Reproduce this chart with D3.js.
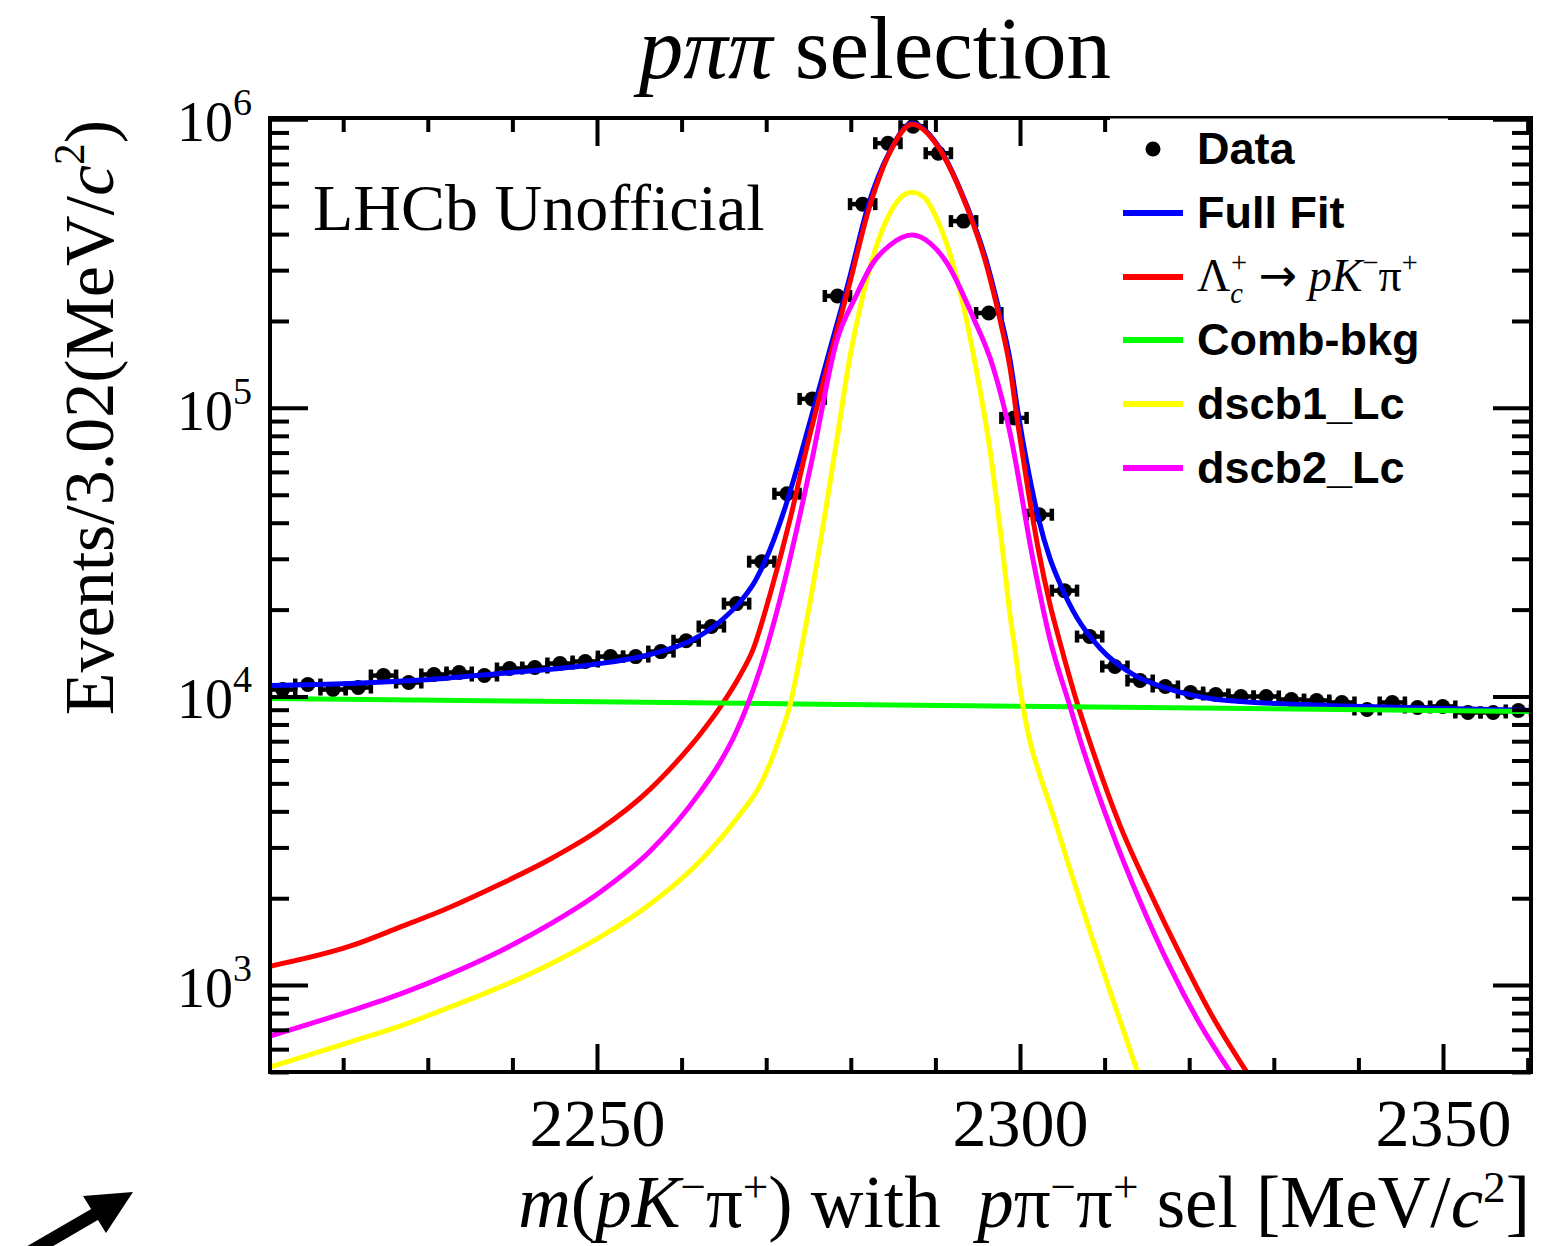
<!DOCTYPE html>
<html><head><meta charset="utf-8">
<script src="https://cdn.jsdelivr.net/npm/d3@7"></script>
<style>body{margin:0;background:#fff} svg{display:block}</style>
</head><body>
<svg id="c" width="1553" height="1246"></svg>
<script>
// ---------------- data ----------------
const binRange = [2211.35, 2360.4];           // MeV/c^2, 50 bins
const counts = [10570, 11000, 10570, 10740, 11820, 11180, 11920, 12110, 11820, 12500,
  12600, 13010, 13220, 13750, 13750, 14310, 15600, 17470, 20980, 29320,
  50410, 107400, 244100, 508000, 826000, 946000, 762700, 443700, 213200, 92300,
  42640, 23270, 16130, 12700, 11360, 10830, 10320, 10160, 10000, 10000,
  9763, 9687, 9533, 9016, 9533, 9162, 9236, 8803, 8803, 8946];

const fullFit = [[2211.35,10920],[2220.80,11090],[2230.26,11450],[2238.53,12010],[2249.53,12900],[2256.26,13980],[2261.35,15750],[2264.54,18180],[2266.90,21250],[2268.68,25100],[2270.45,32300],[2272.22,45000],[2274.59,77520],[2277.19,146600],[2279.91,286200],[2282.03,500000],[2284.63,775100],[2287.23,968700],[2290.19,819300],[2292.91,572500],[2296.10,316800],[2297.64,210900],[2298.82,146900],[2299.76,96600],[2300.95,61280],[2302.13,42020],[2303.55,30040],[2304.73,24600],[2306.74,18730],[2309.46,14700],[2313.36,11920],[2317.38,10660],[2323.29,9763],[2333.10,9382],[2344.92,9161],[2360.40,8946]];

const signalLc = [[2211.35,1163],[2220.80,1364],[2226.71,1588],[2232.62,1862],[2238.53,2236],[2244.44,2729],[2250.35,3466],[2256.26,4766],[2259.46,5960],[2262.17,7386],[2264.54,9162],[2266.90,11820],[2268.44,14540],[2270.45,22540],[2272.81,40980],[2274.59,68780],[2277.19,137600],[2279.91,272900],[2282.03,476600],[2284.63,768800],[2287.23,961000],[2290.19,812800],[2292.91,567900],[2296.10,307500],[2297.64,201600],[2298.82,137600],[2299.76,87350],[2300.95,52030],[2302.13,32780],[2303.55,20810],[2304.73,15380],[2306.74,9533],[2308.04,7270],[2311.82,3578],[2315.37,2098],[2318.91,1280],[2322.46,806],[2327.19,480]];

const combBkg = [[2211.35,9840],[2250,9580],[2300,9250],[2360.4,8870]];

const dscb1 = [[2211.35,520],[2220.80,635],[2226.71,721],[2232.62,839],[2238.53,984],[2244.44,1182],[2250.35,1466],[2256.26,1907],[2262.17,2687],[2266.90,3905],[2269.27,4920],[2270.45,5864],[2271.63,7270],[2272.81,9308],[2274.00,13750],[2275.18,21150],[2276.36,33570],[2277.54,55020],[2278.72,90890],[2279.67,137500],[2281.09,221800],[2282.62,333000],[2284.28,450800],[2285.82,532900],[2287.23,559000],[2288.77,532900],[2290.19,450800],[2291.73,341100],[2293.26,229000],[2294.68,143100],[2296.45,71560],[2297.87,33570],[2298.82,19220],[2299.41,14540],[2300.00,10742],[2300.59,8460],[2301.18,6987],[2302.36,5328],[2303.55,4196],[2305.91,2520],[2308.27,1538],[2310.64,953],[2314.18,473]];

const dscb2 = [[2211.35,666],[2220.80,813],[2226.71,931],[2232.62,1092],[2238.53,1311],[2244.44,1626],[2250.35,2098],[2256.26,2909],[2262.17,4653],[2264.54,5910],[2266.31,7386],[2267.73,9235],[2269.27,12400],[2271.63,21650],[2274.00,42640],[2275.41,66070],[2278.37,171900],[2280.50,240200],[2282.62,317600],[2284.63,366400],[2287.23,396800],[2289.36,372300],[2291.37,317600],[2294.44,206500],[2296.81,138700],[2298.82,81930],[2301.54,29790],[2303.55,15750],[2305.91,9235],[2307.09,7098],[2310.64,3550],[2314.18,1953],[2317.73,1154],[2321.28,733],[2325.41,473]];

const xTickValues = [2250, 2300, 2350];
const xTickLabels = ["2250", "2300", "2350"];
const yTickValues = [1e3, 1e4, 1e5, 1e6];
const yTickExponents = ["3", "4", "5", "6"];
const legendLabels = ["Data", "Full Fit", "LAMBDA", "Comb-bkg", "dscb1_Lc", "dscb2_Lc"];
const curveColors = {full:"#0000ff", sig:"#ff0000", bkg:"#00ff00", d1:"#ffff00", d2:"#ff00ff"};

// ---------------- layout ----------------
const L = 270, R = 1531, T = 118, B = 1072;
const serif = "'Liberation Serif','Times New Roman',Times,serif";
const sans = "'Liberation Sans',Arial,Helvetica,sans-serif";
const svg = d3.select("#c");

const x = d3.scaleLinear().domain(binRange).range([L, R]);
const y = d3.scaleLog().domain([500, 1.01e6]).range([B, T]);

svg.append("defs").append("clipPath").attr("id", "clip")
  .append("rect").attr("x", L).attr("y", T).attr("width", R - L).attr("height", B - T);

// ---------------- data points ----------------
const nB = counts.length, bw = (binRange[1] - binRange[0]) / nB;
const pts = counts.map((c, i) => ({m: binRange[0] + (i + 0.5) * bw, v: c}));
const gD = svg.append("g").attr("clip-path", "url(#clip)");
const pg = gD.selectAll("g.pt").data(pts).join("g").attr("class", "pt");
pg.append("line").attr("x1", d => x(d.m - bw / 2)).attr("x2", d => x(d.m + bw / 2))
  .attr("y1", d => y(d.v)).attr("y2", d => y(d.v)).attr("stroke", "#000").attr("stroke-width", 4.5);
[-1, 1].forEach(s => {
  pg.append("line").attr("x1", d => x(d.m + s * bw / 2)).attr("x2", d => x(d.m + s * bw / 2))
    .attr("y1", d => y(d.v) - 6).attr("y2", d => y(d.v) + 6).attr("stroke", "#000").attr("stroke-width", 4.5);
});
pg.append("circle").attr("cx", d => x(d.m)).attr("cy", d => y(d.v)).attr("r", 7.5).attr("fill", "#000");

// ---------------- curves ----------------
const line = d3.line().x(d => x(d[0])).y(d => y(d[1])).curve(d3.curveMonotoneX);
const gC = svg.append("g").attr("clip-path", "url(#clip)");
[[fullFit, curveColors.full], [signalLc, curveColors.sig], [combBkg, curveColors.bkg],
 [dscb1, curveColors.d1], [dscb2, curveColors.d2]].forEach(([d, c]) => {
  gC.append("path").datum(d).attr("d", line).attr("fill", "none").attr("stroke", c)
    .attr("stroke-width", 5).attr("stroke-linejoin", "round");
});

// ---------------- axes ----------------
const xMinor = d3.range(2220, 2361, 10).filter(v => v % 50 !== 0);
const yMinor = [];
[2, 3, 4, 5].forEach(e => d3.range(2, 10).forEach(k => { const v = k * Math.pow(10, e); if (v >= 500 && v <= 1.01e6) yMinor.push(v); }));
function st(g) { g.select(".domain").remove(); g.selectAll(".tick line").attr("stroke", "#000").attr("stroke-width", 4); }

svg.append("g").attr("transform", `translate(0,${B})`).call(d3.axisBottom(x).tickValues(xMinor).tickSize(-14).tickFormat("")).call(st);
svg.append("g").attr("transform", `translate(0,${B})`)
  .call(d3.axisBottom(x).tickValues(xTickValues).tickSize(-28).tickPadding(26).tickFormat((d, i) => xTickLabels[i]))
  .call(st).call(g => g.selectAll("text").attr("font-family", serif).attr("font-size", 68).attr("fill", "#000"));
svg.append("g").attr("transform", `translate(0,${T})`).call(d3.axisTop(x).tickValues(xMinor).tickSize(-14).tickFormat("")).call(st);
svg.append("g").attr("transform", `translate(0,${T})`).call(d3.axisTop(x).tickValues(xTickValues).tickSize(-28).tickFormat("")).call(st);

svg.append("g").attr("transform", `translate(${L},0)`).call(d3.axisLeft(y).tickValues(yMinor).tickSize(-19).tickFormat("")).call(st);
svg.append("g").attr("transform", `translate(${L},0)`).call(d3.axisLeft(y).tickValues(yTickValues).tickSize(-38).tickFormat("")).call(st);
svg.append("g").attr("transform", `translate(${R},0)`).call(d3.axisRight(y).tickValues(yMinor).tickSize(-19).tickFormat("")).call(st);
svg.append("g").attr("transform", `translate(${R},0)`).call(d3.axisRight(y).tickValues(yTickValues).tickSize(-38).tickFormat("")).call(st);

// y tick labels 10^n
yTickValues.forEach((v, i) => {
  const t = svg.append("text").attr("x", 252).attr("y", y(v) + 22).attr("text-anchor", "end")
    .attr("font-family", serif).attr("font-size", 56).attr("fill", "#000");
  t.append("tspan").text("10");
  t.append("tspan").attr("dy", -26).attr("font-size", 38).text(yTickExponents[i]);
});

// frame
svg.append("rect").attr("x", L).attr("y", T).attr("width", R - L).attr("height", B - T)
  .attr("fill", "none").attr("stroke", "#000").attr("stroke-width", 4);

// ---------------- rich text helper ----------------
function rich(sel, parts, fs, supRaise = 0.42) {
  let cur = 0;
  parts.forEach(p => {
    const [t, s, dx, fam] = p;
    let off = 0, size = fs;
    if (s.includes("sup")) { off = -supRaise * fs; size = 0.62 * fs; }
    if (s.includes("sub")) { off = 0.25 * fs; size = 0.62 * fs; }
    const ts = sel.append("tspan").attr("dy", off - cur).attr("font-size", size)
      .attr("font-style", s.startsWith("i") ? "italic" : "normal").text(t);
    if (dx) ts.attr("dx", dx);
    if (fam) ts.attr("font-family", fam);
    cur = off;
  });
}

// ---------------- legend ----------------
svg.append("rect").attr("x", 1110).attr("y", 118.5).attr("width", 338).attr("height", 390).attr("fill", "#fff");
const legY = [149, 213, 277, 340, 404, 468];
const legC = [null, curveColors.full, curveColors.sig, curveColors.bkg, curveColors.d1, curveColors.d2];
legY.forEach((ly, i) => {
  if (i === 0) svg.append("circle").attr("cx", 1153).attr("cy", ly).attr("r", 7.5).attr("fill", "#000");
  else svg.append("line").attr("x1", 1123).attr("x2", 1183).attr("y1", ly).attr("y2", ly)
    .attr("stroke", legC[i]).attr("stroke-width", 6);
  if (legendLabels[i] === "LAMBDA") {
    const t = svg.append("text").attr("x", 1197).attr("y", ly + 14).attr("font-family", serif)
      .attr("font-size", 46).attr("fill", "#000");
    rich(t, [["Λ", ""], ["c", "isub"], ["+", "sup", -12], ["\u00a0", ""], ["→", "", 0, "'DejaVu Sans',sans-serif"], ["\u00a0", ""], ["p", "i"], ["K", "i"], ["−", "sup"], ["π", ""], ["+", "sup"]], 46);
  } else {
    svg.append("text").attr("x", 1197).attr("y", ly + 15).attr("font-family", sans).attr("font-weight", "bold")
      .attr("font-size", 45).attr("fill", "#000").text(legendLabels[i]);
  }
});

// ---------------- titles ----------------
const tt = svg.append("text").attr("x", 875).attr("y", 78).attr("text-anchor", "middle")
  .attr("font-family", serif).attr("font-size", 89).attr("fill", "#000");
rich(tt, [["pππ", "i"], ["\u00a0selection", ""]], 89);

svg.append("text").attr("x", 313).attr("y", 230).attr("font-family", serif).attr("font-size", 66)
  .attr("fill", "#000").text("LHCb Unofficial");

const xt = svg.append("text").attr("x", 1530).attr("y", 1227).attr("text-anchor", "end")
  .attr("font-family", serif).attr("font-size", 73).attr("fill", "#000");
rich(xt, [["m", "i"], ["(", ""], ["pK", "i"], ["−", "sup"], ["π", ""], ["+", "sup"], [")", ""],
  ["\u00a0with\u00a0\u00a0", ""], ["p", "i"], ["π", ""], ["−", "sup"], ["π", ""], ["+", "sup"],
  ["\u00a0sel [MeV/", ""], ["c", "i"], ["2", "sup"], ["]", ""]], 73, 0.34);

const yt = svg.append("text").attr("transform", "translate(113,120) rotate(-90)").attr("text-anchor", "end")
  .attr("font-family", serif).attr("font-size", 70).attr("fill", "#000");
rich(yt, [["Events/3.02(MeV/", ""], ["c", "i"], ["2", "sup"], [")", ""]], 70);

// annotation arrow (bottom left)
svg.append("line").attr("x1", 30).attr("y1", 1252).attr("x2", 104).attr("y2", 1209)
  .attr("stroke", "#000").attr("stroke-width", 13);
svg.append("path").attr("d", "M83,1196 L133,1192 L106,1233 Z").attr("fill", "#000");
</script>
</body></html>
